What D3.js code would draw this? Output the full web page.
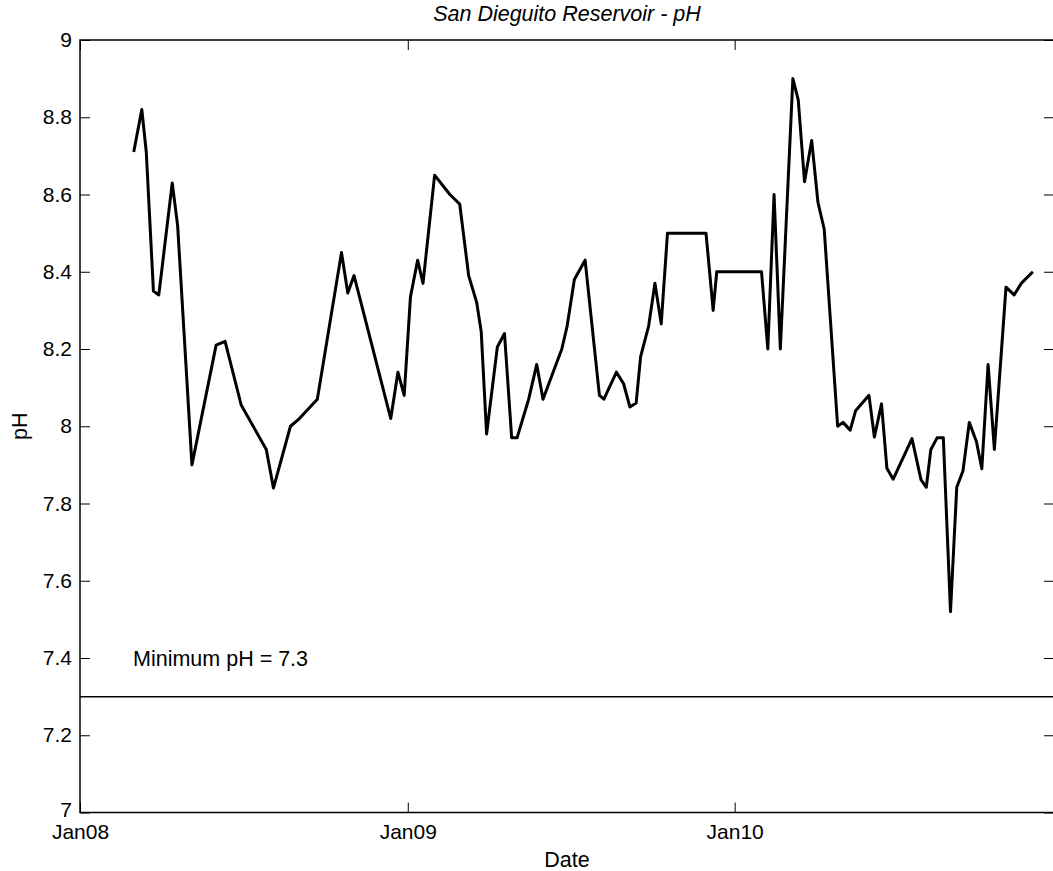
<!DOCTYPE html>
<html>
<head>
<meta charset="utf-8">
<script src="https://cdn.jsdelivr.net/npm/d3@7/dist/d3.min.js"></script>
<style>
  body { margin: 0; background: #fff; }
  svg { display: block; font-family: "Liberation Sans", Arial, sans-serif; }
</style>
</head>
<body>
<script>
// sample dates and pH readings, San Dieguito Reservoir
const dates = [
  "2008-03-01","2008-03-10","2008-03-15","2008-03-23","2008-03-29","2008-04-13","2008-04-19",
  "2008-05-05","2008-06-01","2008-06-11","2008-06-29","2008-07-27","2008-08-04","2008-08-23",
  "2008-09-02","2008-09-22","2008-10-19","2008-10-26","2008-11-02","2008-12-13","2008-12-21",
  "2008-12-28","2009-01-04","2009-01-12","2009-01-18","2009-01-31","2009-02-17","2009-02-28",
  "2009-03-10","2009-03-19","2009-03-24","2009-03-30","2009-04-11","2009-04-19","2009-04-27",
  "2009-05-03","2009-05-16","2009-05-25","2009-06-01","2009-06-22","2009-06-28","2009-07-06",
  "2009-07-18","2009-08-03","2009-08-08","2009-08-22","2009-08-30","2009-09-06","2009-09-13",
  "2009-09-18","2009-09-27","2009-10-04","2009-10-11","2009-10-18","2009-11-30","2009-12-08",
  "2009-12-12","2010-01-31","2010-02-07","2010-02-14","2010-02-21","2010-03-07","2010-03-13",
  "2010-03-20","2010-03-28","2010-04-04","2010-04-11","2010-04-26","2010-05-02","2010-05-10",
  "2010-05-16","2010-05-31","2010-06-06","2010-06-14","2010-06-20","2010-06-27","2010-07-18",
  "2010-07-28","2010-08-03","2010-08-08","2010-08-15","2010-08-22","2010-08-30","2010-09-06",
  "2010-09-13","2010-09-20","2010-09-28","2010-10-04","2010-10-11","2010-10-18","2010-10-31",
  "2010-11-09","2010-11-17","2010-11-30"
];
const phValues = [
  8.71, 8.82, 8.71, 8.35, 8.34, 8.63, 8.52,
  7.90, 8.21, 8.22, 8.055, 7.94, 7.84, 8.00,
  8.02, 8.07, 8.45, 8.345, 8.39, 8.02, 8.14,
  8.08, 8.335, 8.43, 8.37, 8.65, 8.60, 8.575,
  8.39, 8.32, 8.245, 7.98, 8.205, 8.24, 7.97,
  7.97, 8.07, 8.16, 8.07, 8.20, 8.26, 8.38,
  8.43, 8.08, 8.07, 8.14, 8.11, 8.05, 8.06,
  8.18, 8.26, 8.37, 8.265, 8.50, 8.50, 8.30,
  8.40, 8.40, 8.20, 8.60, 8.20, 8.90, 8.845,
  8.633, 8.74, 8.58, 8.51, 8.00, 8.01, 7.99,
  8.04, 8.08, 7.972, 8.058, 7.891, 7.863, 7.968,
  7.862, 7.842, 7.939, 7.97, 7.97, 7.52, 7.842,
  7.885, 8.01, 7.96, 7.89, 8.16, 7.94, 8.36,
  8.34, 8.37, 8.40
];
const minimumPh = 7.3;
const yTicks = [7, 7.2, 7.4, 7.6, 7.8, 8, 8.2, 8.4, 8.6, 8.8, 9];
const xTickDates = ["2008-01-01", "2009-01-01", "2010-01-01"];
const xTickLabels = ["Jan08", "Jan09", "Jan10"];
const xDomain = ["2008-01-01", "2010-12-23T14:00"];

const width = 1053, height = 871;
const margin = { top: 40, right: -1, bottom: 58.5, left: 80 };
const parse = s => new Date(s + (s.length === 10 ? "T00:00" : ""));

const svg = d3.select("body").append("svg")
  .attr("width", width)
  .attr("height", height);

const x = d3.scaleTime()
  .domain(xDomain.map(parse))
  .range([margin.left, width - margin.right]);

const y = d3.scaleLinear()
  .domain([7, 9])
  .range([height - margin.bottom, margin.top]);

const data = dates.map((d, i) => ({ date: parse(d), ph: phValues[i] }));

const x0 = x.range()[0], x1 = x.range()[1];
const y0 = y.range()[0], y1 = y.range()[1];

// ticks, inward on all four sides
const tickLen = 10;
const yAxisL = d3.axisLeft(y).tickValues(yTicks).tickSizeInner(-tickLen).tickSizeOuter(0)
  .tickPadding(8).tickFormat(d3.format("~g"));
const yAxisR = d3.axisRight(y).tickValues(yTicks).tickSizeInner(-tickLen).tickSizeOuter(0)
  .tickFormat("");
const xTicks = xTickDates.map(parse);
const xAxisB = d3.axisBottom(x).tickValues(xTicks).tickSizeInner(-tickLen).tickSizeOuter(0)
  .tickPadding(12).tickFormat((d, i) => xTickLabels[i]);
const xAxisT = d3.axisTop(x).tickValues(xTicks).tickSizeInner(-tickLen).tickSizeOuter(0)
  .tickFormat("");

function styleAxis(g) {
  g.select(".domain").remove();
  g.selectAll(".tick line").attr("stroke", "#000").attr("stroke-width", 1);
  g.selectAll(".tick text").attr("fill", "#000").attr("font-size", 21);
}

svg.append("g").attr("transform", `translate(${x0},0)`).call(yAxisL).call(styleAxis)
  .selectAll(".tick text").filter(d => d === 7).attr("dy", "0.2em");
svg.append("g").attr("transform", `translate(${x1},0)`).call(yAxisR).call(styleAxis);
svg.append("g").attr("transform", `translate(0,${y0})`).call(xAxisB).call(styleAxis);
svg.append("g").attr("transform", `translate(0,${y1})`).call(xAxisT).call(styleAxis);

svg.append("rect")
  .attr("x", x0).attr("y", y1)
  .attr("width", x1 - x0).attr("height", y0 - y1)
  .attr("fill", "none")
  .attr("stroke", "#000")
  .attr("stroke-width", 1.5);

// minimum pH reference line
svg.append("line")
  .attr("x1", x0).attr("x2", x1)
  .attr("y1", y(minimumPh)).attr("y2", y(minimumPh))
  .attr("stroke", "#000")
  .attr("stroke-width", 1.5);

svg.append("text")
  .attr("x", x0 + 53)
  .attr("y", y(7.4) + 8)
  .attr("font-size", 21.5)
  .text("Minimum pH = " + minimumPh);

// pH series
const line = d3.line()
  .x(d => x(d.date))
  .y(d => y(d.ph));

svg.append("path")
  .datum(data)
  .attr("fill", "none")
  .attr("stroke", "#000")
  .attr("stroke-width", 3)
  .attr("stroke-linejoin", "round")
  .attr("d", line);

// titles
svg.append("text")
  .attr("x", (x0 + x1) / 2)
  .attr("y", 21)
  .attr("text-anchor", "middle")
  .attr("font-size", 21.5)
  .attr("font-style", "italic")
  .text("San Dieguito Reservoir - pH");

svg.append("text")
  .attr("x", (x0 + x1) / 2)
  .attr("y", 867)
  .attr("text-anchor", "middle")
  .attr("font-size", 21.5)
  .text("Date");

svg.append("text")
  .attr("transform", `translate(27,${(y0 + y1) / 2}) rotate(-90)`)
  .attr("text-anchor", "middle")
  .attr("font-size", 21.5)
  .text("pH");
</script>
</body>
</html>
